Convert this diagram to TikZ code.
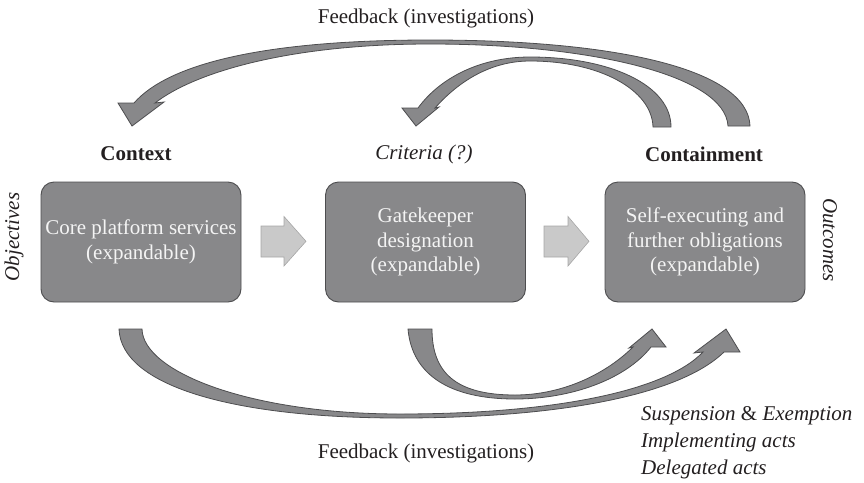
\documentclass[tikz,border=0pt]{standalone}
\usepackage{fontspec}
\setmainfont{Liberation Serif}
\definecolor{boxfill}{HTML}{88888A}
\definecolor{boxline}{HTML}{4D4D4F}
\definecolor{blockfill}{HTML}{C9C9C9}
\definecolor{blockline}{HTML}{A6A6A6}
\definecolor{txt}{HTML}{231F20}
\definecolor{boxtxt}{HTML}{F4F4F4}
\begin{document}
\begin{tikzpicture}[x=1pt,y=-1pt,
  procbox/.style={draw=boxline, line width=0.9pt, fill=boxfill, rounded corners=13pt,
    minimum width=200pt, minimum height=120pt, text=boxtxt, align=center,
    font=\fontsize{21}{24.5}\selectfont, inner sep=0pt},
  lbl/.style={text=txt, inner sep=0pt, font=\fontsize{21}{26}\selectfont},
  curvearrow/.style={draw=boxline, line width=0.8pt, fill=boxfill, line join=miter},
  blockarrow/.style={draw=blockline, line width=0.6pt, fill=blockfill, line join=miter}]
\useasboundingbox (0,0) rectangle (864,482);

% boxes
\node[procbox] (b1) at (141,242) {Core platform services\\(expandable)};
\node[procbox] (b2) at (425.5,242) {Gatekeeper\\designation\\(expandable)};
\node[procbox] (b3) at (705,242) {Self-executing and\\further obligations\\(expandable)};

% block arrows between boxes
\draw[blockarrow] (261,226) -- (284,226) -- (284,216.5) -- (306,241.3)
  -- (284,266) -- (284,257) -- (261,257) -- cycle;
\draw[blockarrow] (544,226) -- (568,226) -- (568,216.5) -- (589,241.3)
  -- (568,266) -- (568,257) -- (544,257) -- cycle;

% labels
\node[lbl] (fbtop) at (426,18) {Feedback (investigations)};
\node[lbl, font=\fontsize{21}{26}\selectfont\bfseries] (ctx) at (136,154) {Context};
\node[lbl, font=\fontsize{21}{26}\selectfont\itshape] (crit) at (424,154) {Criteria (?)};
\node[lbl, font=\fontsize{21}{26}\selectfont\bfseries] (cont) at (704,154) {Containment};
\node[lbl, font=\fontsize{21}{26}\selectfont\itshape, rotate=90] (obj) at (14,237) {Objectives};
\node[lbl, font=\fontsize{21}{26}\selectfont\itshape, rotate=-90] (outc) at (830,240) {Outcomes};
\node[lbl] (fbbot) at (426,453) {Feedback (investigations)};
\node[lbl, font=\fontsize{21}{27}\selectfont\itshape, align=left, anchor=base west] (acts) at (641,474)
  {Suspension \textup{\&} Exemption\\Implementing acts\\Delegated acts};

% top outer curved arrow (Containment -> Context)
\draw[curvearrow] (750,126) .. controls (748,70) and (620,40) .. (430,40)
  .. controls (270,40) and (170,62) .. (134,103)
  -- (118,103) -- (132,126) -- (164,102) -- (155,103)
  .. controls (195,72) and (290,44) .. (430,44)
  .. controls (590,44) and (725,75) .. (728,126) -- cycle;

% top inner curved arrow (Containment -> Criteria)
\draw[curvearrow] (671,127) .. controls (671,85) and (610,57) .. (530,57)
  .. controls (480,57) and (440,78) .. (418,108)
  -- (402,108) -- (416,126) -- (439,107) -- (435,108)
  .. controls (458,82) and (490,61) .. (530,61)
  .. controls (600,61) and (652,90) .. (653,127) -- cycle;

% bottom outer curved arrow (Context -> Containment)
\draw[curvearrow] (119,329) .. controls (121,385) and (230,418) .. (400,418)
  .. controls (560,418) and (680,395) .. (724,352)
  -- (740,352) -- (726,329) -- (694,353) -- (703,352)
  .. controls (665,392) and (550,414) .. (400,414)
  .. controls (250,414) and (143,372) .. (142,329) -- cycle;

% bottom inner curved arrow (Gatekeeper -> Containment)
\draw[curvearrow] (408,329) .. controls (412,375) and (450,399) .. (515,399)
  .. controls (570,399) and (625,380) .. (651,347)
  -- (666,347) -- (652,329) -- (629,348) -- (633,347)
  .. controls (608,372) and (565,395) .. (515,395)
  .. controls (455,395) and (432,372) .. (432,329) -- cycle;
\end{tikzpicture}
\end{document}
